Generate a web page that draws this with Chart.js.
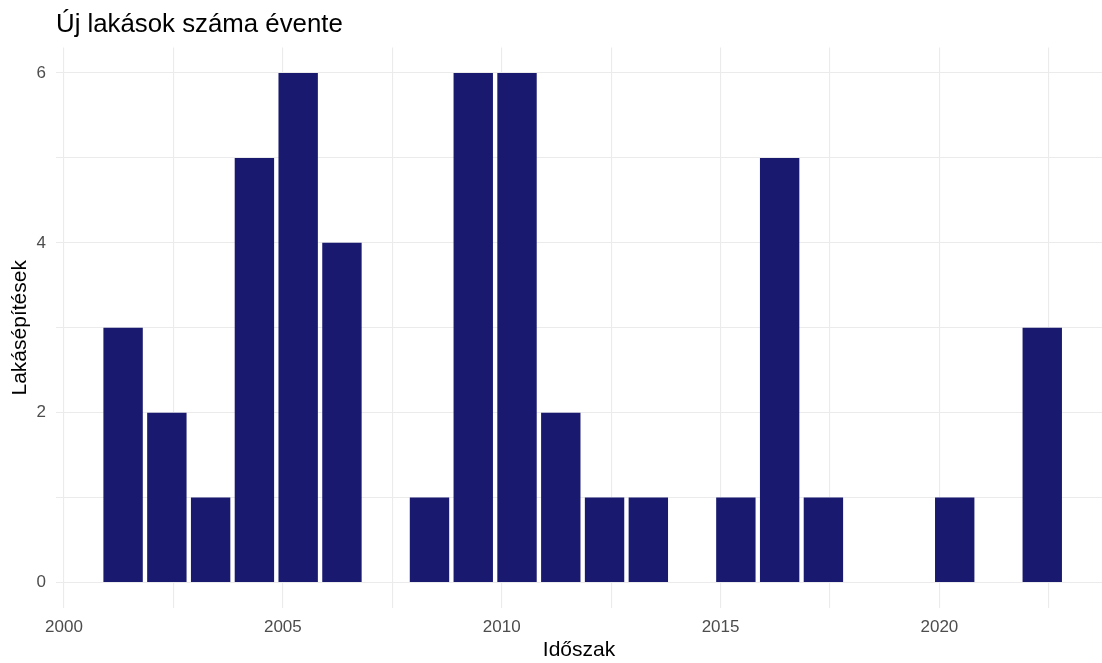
<!DOCTYPE html>
<html>
<head>
<meta charset="utf-8">
<script src="https://cdn.jsdelivr.net/npm/chart.js@4/dist/chart.umd.min.js"></script>
<style>
  html, body { margin: 0; padding: 0; background: #ffffff; }
  canvas { display: block; }
</style>
</head>
<body>
<canvas id="c" width="1102" height="663"></canvas>
<script>
// ---- data ----
const years  = [2001, 2002, 2003, 2004, 2005, 2006, 2008, 2009, 2010, 2011, 2012, 2013, 2015, 2016, 2017, 2020, 2022];
const counts = [3,    2,    1,    5,    6,    4,    1,    6,    6,    2,    1,    1,    1,    5,    1,    1,    3];
const yearOffset = 0.35; // bars sit a bit after the start of each year (date position within the year)
const titleText = 'Új lakások száma évente';
const xTitle = 'Időszak';
const yTitle = 'Lakásépítések';

const points = years.map((y, i) => ({ x: y + yearOffset, y: counts[i] }));

const FONT = "'Liberation Sans', Arial, sans-serif";
const GRID = '#ebebeb';

new Chart(document.getElementById('c'), {
  type: 'bar',
  data: {
    datasets: [{
      data: points,
      backgroundColor: '#191970',
      borderWidth: 0,
      barPercentage: 0.9,
      categoryPercentage: 1.0
    }]
  },
  options: {
    responsive: false,
    animation: false,
    layout: { padding: { left: 0, right: 0, top: 0, bottom: 0 } },
    plugins: {
      legend: { display: false },
      tooltip: { enabled: false },
      title: {
        display: true,
        text: titleText,
        align: 'start',
        fullSize: false,
        color: '#000000',
        font: { family: FONT, size: 25.8, weight: 'normal' },
        padding: { top: 9, bottom: 7.6 }
      }
    },
    scales: {
      x: {
        type: 'linear',
        min: 1999.817,
        max: 2023.715,
        offset: false,
        border: { display: false },
        grid: { color: GRID, lineWidth: 1.1, drawTicks: false, offset: false },
        ticks: {
          stepSize: 2.5,
          includeBounds: false,
          autoSkip: false,
          maxRotation: 0,
          padding: 9,
          color: '#4d4d4d',
          font: { family: FONT, size: 17 },
          callback: (v) => (Math.abs(v % 5) < 1e-6 ? String(Math.round(v)) : '')
        },
        title: {
          display: true,
          text: xTitle,
          color: '#000000',
          font: { family: FONT, size: 21 },
          padding: { top: 1, bottom: 0 }
        },
        afterFit: (s) => { s.height = 55; }
      },
      y: {
        type: 'linear',
        min: -0.3,
        max: 6.3,
        border: { display: false },
        grid: { color: GRID, lineWidth: 1.1, drawTicks: false, offset: false },
        ticks: {
          stepSize: 1,
          includeBounds: false,
          autoSkip: false,
          padding: 10,
          color: '#4d4d4d',
          font: { family: FONT, size: 17 },
          callback: (v) => (Math.abs(v % 2) < 1e-6 ? String(Math.round(v)) : '')
        },
        title: {
          display: true,
          text: yTitle,
          color: '#000000',
          font: { family: FONT, size: 21 },
          padding: { top: 8, bottom: 0 }
        },
        afterFit: (s) => { s.width = 56; }
      }
    }
  }
});
</script>
</body>
</html>
